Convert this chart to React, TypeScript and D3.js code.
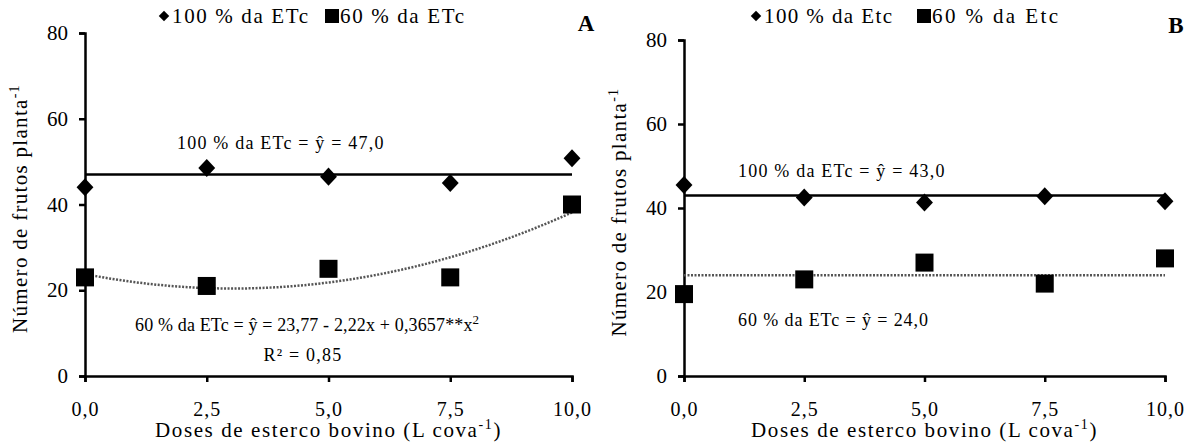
import React, { useEffect, useRef } from "react";
import * as d3 from "d3";

// doses de esterco (L cova-1)
const doses = [0, 2.5, 5, 7.5, 10];
const doseLabels = ["0,0", "2,5", "5,0", "7,5", "10,0"];
const yTicks = [0, 20, 40, 60, 80];

// painel A
const a100 = [44, 48.5, 46.5, 45, 50.8];
const a60 = [23, 21, 25, 23, 40];
const aMean100 = 47.0;
const aQuad60 = [23.77, -2.22, 0.3657]; // coeficientes da regressao

// painel B
const b100 = [45.5, 42.5, 41.3, 42.8, 41.6];
const b60 = [19.5, 23, 27, 22, 28];
const bMean100 = 43.0;
const bMean60 = 24.0;

const FONT = "'Liberation Serif', 'Times New Roman', serif";

function drawPanel(svg: any, opt: any) {
  var x = d3.scaleLinear().domain([0, 10]).range([opt.left, opt.right]);
  var y = d3.scaleLinear().domain([0, 80]).range([opt.bottom, opt.top]);
  var g = svg.append("g").style("font-family", FONT);

  // y axis
  var yAxis = d3.axisLeft(y).tickValues(yTicks).tickSize(6).tickFormat((d: any) => String(d));
  var ya = g.append("g").attr("transform", "translate(" + opt.left + ",0)").call(yAxis);
  ya.select(".domain").attr("stroke", "#000").attr("stroke-width", 2.5);
  ya.selectAll(".tick line").attr("stroke-width", 2.5);
  ya.selectAll(".tick text").style("font-family", FONT).attr("font-size", 21)
    .attr("x", -17).attr("fill", "#000");

  // x axis
  var xAxis = d3.axisBottom(x).tickValues(doses).tickSize(6).tickFormat((d: any, i: number) => doseLabels[i]);
  var xa = g.append("g").attr("transform", "translate(0," + opt.bottom + ")").call(xAxis);
  xa.select(".domain").attr("stroke", "#000").attr("stroke-width", 2.5);
  xa.selectAll(".tick line").attr("stroke-width", 2.5);
  xa.selectAll(".tick text").style("font-family", FONT).attr("font-size", 20)
    .attr("letter-spacing", 1).attr("y", 26).attr("fill", "#000");

  // titulos dos eixos
  g.append("text")
    .attr("transform", "translate(" + (opt.left - 58) + "," + ((opt.top + opt.bottom) / 2 + 4) + ") rotate(-90)")
    .attr("text-anchor", "middle").attr("font-size", 21).attr("letter-spacing", 1.3)
    .html("Número de frutos planta<tspan dy='-8' font-size='14'>-1</tspan>");
  g.append("text")
    .attr("x", (opt.left + opt.right) / 2).attr("y", 437)
    .attr("text-anchor", "middle").attr("font-size", 21).attr("letter-spacing", 1.6)
    .html("Doses de esterco bovino (L cova<tspan dy='-8' font-size='14'>-1</tspan><tspan dy='8'>)</tspan>");

  // linhas de ajuste
  g.append("line")
    .attr("x1", x(0)).attr("x2", x(10)).attr("y1", y(opt.mean100)).attr("y2", y(opt.mean100))
    .attr("stroke", "#000").attr("stroke-width", 2.5);
  var fit60 = opt.fit60;
  var xs = d3.range(0, 10.01, 0.25);
  var line = d3.line<number>().x((d) => x(d)).y((d) => y(fit60(d)));
  g.append("path").datum(xs).attr("d", line).attr("fill", "none")
    .attr("stroke", "#555").attr("stroke-width", 2.5).attr("stroke-dasharray", "2,1.5");

  // pontos
  var diamond = d3.symbol().type(d3.symbolDiamond2).size(165);
  g.selectAll(".p100").data(opt.d100).enter().append("path")
    .attr("d", diamond)
    .attr("transform", (d: number, i: number) => "translate(" + x(doses[i]) + "," + y(d) + ") scale(1.05,1.12)")
    .attr("fill", "#000");
  g.selectAll(".p60").data(opt.d60).enter().append("rect")
    .attr("x", (d: number, i: number) => x(doses[i]) - 9)
    .attr("y", (d: number) => y(d) - 9)
    .attr("width", 18).attr("height", 18).attr("fill", "#000");

  // legenda
  var lg = g.append("g").attr("font-size", 21);
  lg.append("path").attr("d", d3.symbol().type(d3.symbolDiamond2).size(70))
    .attr("transform", "translate(" + opt.leg[0] + ",16)").attr("fill", "#000");
  lg.append("text").attr("x", opt.leg[0] + 8).attr("y", 23)
    .attr("textLength", opt.legW[0]).attr("lengthAdjust", "spacing").text(opt.legText[0]);
  lg.append("rect").attr("x", opt.leg[1] - 7).attr("y", 9).attr("width", 14).attr("height", 14).attr("fill", "#000");
  lg.append("text").attr("x", opt.leg[1] + 8).attr("y", 23)
    .attr("textLength", opt.legW[1]).attr("lengthAdjust", "spacing").text(opt.legText[1]);

  g.append("text").attr("x", opt.letter[0]).attr("y", opt.letter[1])
    .attr("font-size", 23).attr("font-weight", "bold").attr("text-anchor", "middle").text(opt.letterText);

  // equacoes
  opt.notes.forEach((n: any) => {
    g.append("text").attr("x", n[0]).attr("y", n[1]).attr("font-size", 18)
      .attr("letter-spacing", n[3]).attr("text-anchor", n[4] || "start").html(n[2]);
  });
}

export default function App() {
  const ref = useRef<SVGSVGElement>(null);
  useEffect(() => {
    var svg = d3.select(ref.current);
    svg.selectAll("*").remove();
    drawPanel(svg, {
      left: 85, right: 572, top: 33, bottom: 376,
      d100: a100, d60: a60, mean100: aMean100,
      fit60: (v: number) => aQuad60[0] + aQuad60[1] * v + aQuad60[2] * v * v,
      leg: [164, 332], legW: [136, 124], legText: ["100 % da ETc", "60 % da ETc"],
      letter: [586, 31], letterText: "A",
      notes: [
        [177, 149, "100 % da ETc = ŷ = 47,0", 1.2],
        [135, 331, "60 % da ETc = ŷ = 23,77 - 2,22x + 0,3657**x<tspan dy='-7' font-size='13'>2</tspan>", 0.15],
        [303, 361, "R² = 0,85", 1.2, "middle"],
      ],
    });
    drawPanel(svg, {
      left: 684, right: 1165, top: 40, bottom: 376,
      d100: b100, d60: b60, mean100: bMean100,
      fit60: () => bMean60,
      leg: [756, 924], legW: [128, 126], legText: ["100 % da Etc", "60 % da Etc"],
      letter: [1176, 33], letterText: "B",
      notes: [
        [738, 177, "100 % da ETc = ŷ = 43,0", 1.2],
        [738, 326, "60 % da ETc = ŷ =  24,0", 0.9],
      ],
    });
  }, []);
  return (
    <svg ref={ref} width={1197} height={443}
      style={{ position: "absolute", left: 0, top: 0, background: "#fff" }} />
  );
}
